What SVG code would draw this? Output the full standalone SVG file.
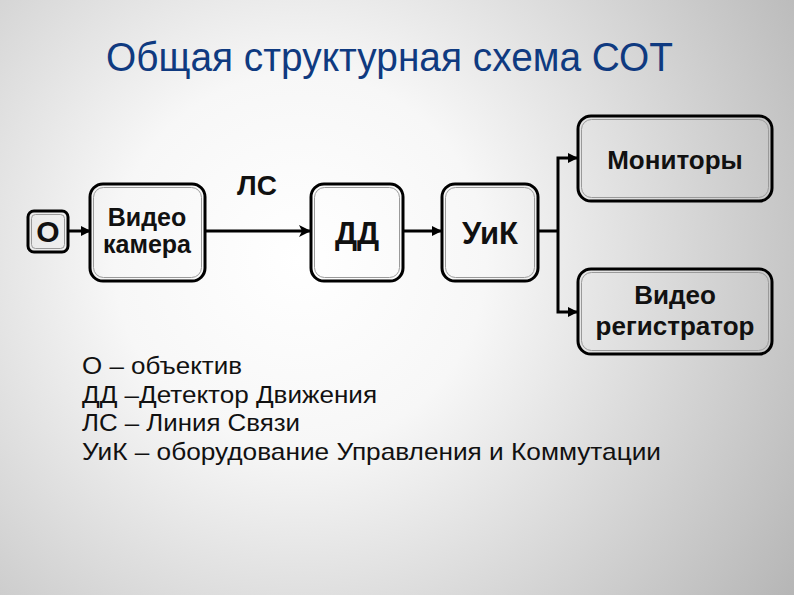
<svg xmlns="http://www.w3.org/2000/svg" width="794" height="595" viewBox="0 0 794 595">
<defs>
  <radialGradient id="bg" cx="300" cy="260" r="620" gradientUnits="userSpaceOnUse">
    <stop offset="0" stop-color="#ffffff"/>
    <stop offset="0.3" stop-color="#f7f7f7"/>
    <stop offset="1" stop-color="#b2b2b2"/>
  </radialGradient>
  <marker id="arr" viewBox="0 0 12 12" refX="11" refY="6" markerWidth="12" markerHeight="12" markerUnits="userSpaceOnUse" orient="auto">
    <path d="M0,0 L12,6 L0,12 L3,6 Z" fill="#000"/>
  </marker>
  <marker id="arrs" viewBox="0 0 10 10" refX="9" refY="5" markerWidth="10" markerHeight="10" markerUnits="userSpaceOnUse" orient="auto">
    <path d="M0,0 L10,5 L0,10 Z" fill="#000"/>
  </marker>
</defs>
<style>
  .box { fill: none; stroke: #000; stroke-width: 3; }
  .inner { fill: none; stroke: #9a9a9a; stroke-width: 1; }
  .lbl { font-family: "Liberation Sans", Arial, sans-serif; font-weight: bold; fill: #111; text-anchor: middle; }
  .leg { font-family: "Liberation Sans", Arial, sans-serif; font-size: 24px; fill: #111; }
  .conn { fill: none; stroke: #000; stroke-width: 3; }
</style>
<rect x="0" y="0" width="794" height="595" fill="url(#bg)"/>

<text x="106" y="71" font-family="'Liberation Sans', Arial, sans-serif" font-size="40" fill="#0f3a80" textLength="567" lengthAdjust="spacingAndGlyphs">Общая структурная схема СОТ</text>

<g id="connectors">
  <line class="conn" x1="68" y1="231" x2="90" y2="231" marker-end="url(#arrs)"/>
  <line class="conn" x1="205" y1="231" x2="310" y2="231" marker-end="url(#arr)"/>
  <line class="conn" x1="403" y1="231" x2="441" y2="231" marker-end="url(#arrs)"/>
  <polyline class="conn" points="538,231 558,231"/>
  <polyline class="conn" points="558,231 558,158 577,158" marker-end="url(#arrs)"/>
  <polyline class="conn" points="558,231 558,312 577,312" marker-end="url(#arrs)"/>
</g>

<g id="label-ls">
  <text class="lbl" x="257" y="195" font-size="28">ЛС</text>
</g>

<g id="node-o">
  <rect class="box" x="28" y="211" width="40" height="41" rx="6"/>
  <rect class="inner" x="31.5" y="214.5" width="33" height="34" rx="4"/>
  <text class="lbl" x="48" y="242" font-size="30">О</text>
</g>

<g id="node-camera">
  <rect class="box" x="90" y="184" width="115" height="97" rx="13"/>
  <rect class="inner" x="93.5" y="187.5" width="108" height="90" rx="10"/>
  <text class="lbl" x="147" y="226" font-size="25">Видео</text>
  <text class="lbl" x="147" y="253" font-size="25">камера</text>
</g>

<g id="node-dd">
  <rect class="box" x="311" y="184" width="92" height="97" rx="13"/>
  <rect class="inner" x="314.5" y="187.5" width="85" height="90" rx="10"/>
  <text class="lbl" x="357" y="244" font-size="31">ДД</text>
</g>

<g id="node-uik">
  <rect class="box" x="442" y="184" width="96" height="97" rx="13"/>
  <rect class="inner" x="445.5" y="187.5" width="89" height="90" rx="10"/>
  <text class="lbl" x="490" y="244" font-size="31">УиК</text>
</g>

<g id="node-monitors">
  <rect class="box" x="578" y="116" width="194" height="85" rx="13"/>
  <rect class="inner" x="581.5" y="119.5" width="187" height="78" rx="10"/>
  <text class="lbl" x="675" y="169" font-size="26">Мониторы</text>
</g>

<g id="node-registrator">
  <rect class="box" x="578" y="269" width="194" height="85" rx="13"/>
  <rect class="inner" x="581.5" y="272.5" width="187" height="78" rx="10"/>
  <text class="lbl" x="675" y="304" font-size="26">Видео</text>
  <text class="lbl" x="675" y="335" font-size="26">регистратор</text>
</g>

<g id="legend">
  <text class="leg" x="82" y="374" textLength="160" lengthAdjust="spacingAndGlyphs">О – объектив</text>
  <text class="leg" x="82" y="403" textLength="295" lengthAdjust="spacingAndGlyphs">ДД –Детектор Движения</text>
  <text class="leg" x="82" y="431" textLength="218" lengthAdjust="spacingAndGlyphs">ЛС – Линия Связи</text>
  <text class="leg" x="82" y="460" textLength="579" lengthAdjust="spacingAndGlyphs">УиК – оборудование Управления и Коммутации</text>
</g>
</svg>
